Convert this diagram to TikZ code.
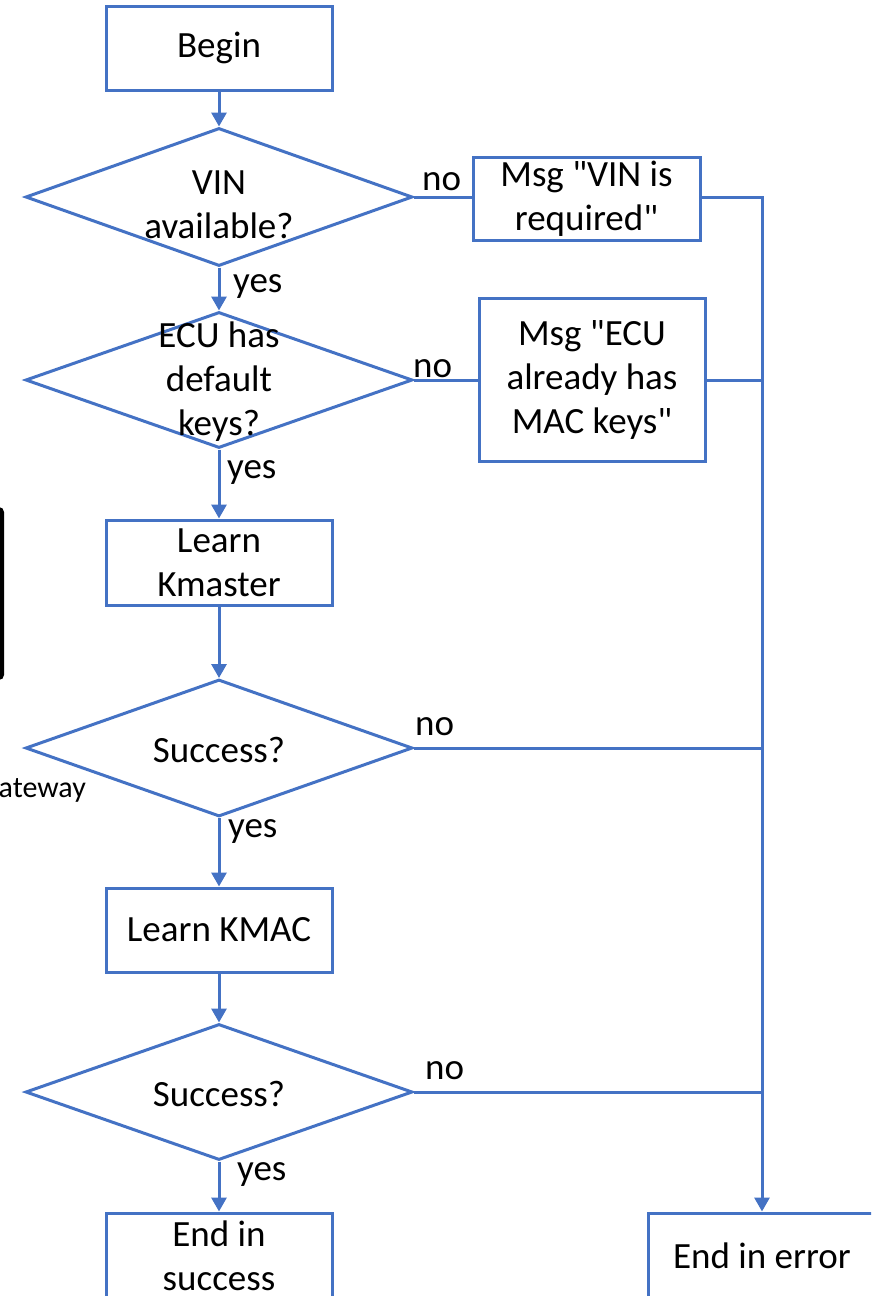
\documentclass[tikz,border=0pt]{standalone}
\usepackage{fontspec}
\setmainfont{Carlito}[Ligatures=TeXOff]
\usetikzlibrary{shapes.geometric,arrows.meta}
\definecolor{flowblue}{HTML}{4472C4}
\begin{document}
\begin{tikzpicture}[x=1pt,y=-1pt,
  every node/.style={font=\fontsize{37}{44}\selectfont, text=black},
  stepbox/.style={draw=flowblue, line width=3pt, rectangle, inner sep=0pt,
    align=center, minimum width=226pt},
  decision/.style={draw=flowblue, line width=3pt, diamond, inner sep=0pt,
    minimum width=387pt},
  qtext/.style={align=center, inner sep=0pt},
  flow/.style={draw=flowblue, line width=3pt},
  flowarrow/.style={flow, -{Triangle[length=14pt,width=15pt]}},
  branch/.style={inner sep=0pt, anchor=base west}
]
\useasboundingbox (0,0) rectangle (871,1296);
\clip (0,0) rectangle (871,1296);

% partly visible items at the left edge
\fill[black, rounded corners=5pt] (-20,507) rectangle (4,680);
\node[inner sep=0pt, anchor=base east, font=\fontsize{30}{36}\selectfont] (gw) at (86,797) {ateway};

% process boxes
\node[stepbox, minimum height=84pt] (begin) at (219,48) {Begin};
\node[stepbox, minimum width=227pt, minimum height=83pt] (msgvin) at (586.5,199) {Msg "VIN is\\required"};
\node[stepbox, minimum height=163pt] (msgecu) at (592,379.5) {Msg "ECU\\already has\\MAC keys"};
\node[stepbox, minimum height=85pt] (kmaster) at (219,562.5) {Learn\\Kmaster};
\node[stepbox, minimum height=84pt] (kmac) at (219,930) {Learn KMAC};
\node[stepbox, minimum height=86pt] (endok) at (219,1256) {End in\\success};
\node[stepbox, minimum width=228pt, minimum height=86pt] (enderr) at (762,1256) {End in error};

% decisions
\node[decision, minimum height=138pt] (d1) at (219,197) {};
\node[qtext] (d1t) at (219,205) {VIN\\available?};
\node[decision, minimum height=136pt] (d2) at (219,380) {};
\node[qtext] (d2t) at (219,382) {ECU has\\default\\keys?};
\node[decision, minimum height=137pt] (d3) at (219,748) {};
\node[qtext] (d3t) at (219,750) {Success?};
\node[decision, minimum height=136pt] (d4) at (219,1092) {};
\node[qtext] (d4t) at (219,1094) {Success?};

% main flow
\draw[flowarrow] (begin.south) -- (d1.north);
\draw[flowarrow] (d1.south) -- (d2.north);
\draw[flowarrow] (d2.south) -- (kmaster.north);
\draw[flowarrow] (kmaster.south) -- (d3.north);
\draw[flowarrow] (d3.south) -- (kmac.north);
\draw[flowarrow] (kmac.south) -- (d4.north);
\draw[flowarrow] (d4.south) -- (endok.north);

% error branches
\draw[flow] (d1.east) -- (d1.east -| msgvin.west);
\draw[flowarrow] (msgvin.east |- d1.east) -| (enderr.north);
\draw[flow] (d2.east) -- (d2.east -| msgecu.west);
\draw[flow] (msgecu.east |- d2.east) -- (d2.east -| enderr.north);
\draw[flow] (d3.east) -- (d3.east -| enderr.north);
\draw[flow] (d4.east) -- (d4.east -| enderr.north);

% branch labels
\node[branch] (no1) at (422,190) {no};
\node[branch] (yes1) at (233,292) {yes};
\node[branch] (no2) at (413,377) {no};
\node[branch] (yes2) at (227,478) {yes};
\node[branch] (no3) at (415,735) {no};
\node[branch] (yes3) at (228,837) {yes};
\node[branch] (no4) at (425,1079) {no};
\node[branch] (yes4) at (237,1180) {yes};
\end{tikzpicture}
\end{document}
